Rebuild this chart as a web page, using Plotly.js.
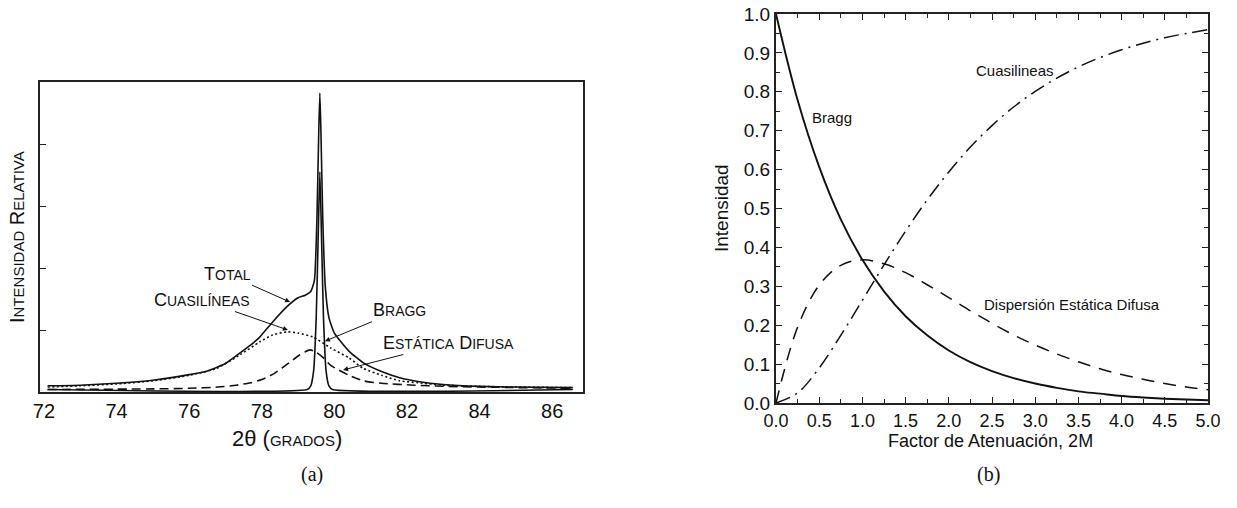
<!DOCTYPE html>
<html>
<head>
<meta charset="utf-8">
<script src="https://cdn.plot.ly/plotly-3.0.1.min.js"></script>
<style>html,body{margin:0;padding:0;background:#fff;}#chart{width:1237px;height:508px;}</style>
</head>
<body>
<div id="chart"></div>
<script>
// ---------- Panel (a): intensity vs 2θ ----------
const totalX = [72.1,73,74,75,76,76.5,77.0,77.4,77.7,77.95,78.3,78.7,79.0,79.2,79.35,79.45,79.52,79.57,79.6,79.63,79.68,79.75,79.85,80.0,80.4,80.8,81.3,81.8,82.3,83,84,85,86.57];
const totalY = [0.10,0.11,0.14,0.19,0.28,0.34,0.46,0.63,0.76,0.89,1.13,1.38,1.52,1.56,1.62,1.8,2.8,4.2,4.82,4.2,2.8,1.7,1.2,0.95,0.66,0.47,0.33,0.23,0.17,0.12,0.09,0.08,0.07];

const quasiX = [72.1,73,74,75,76,76.75,77.4,77.95,78.3,78.7,79.0,79.4,79.9,80.4,80.8,81.3,81.8,82.3,83,84,85,86.57];
const quasiY = [0.08,0.10,0.13,0.18,0.27,0.38,0.60,0.81,0.92,0.97,0.95,0.89,0.71,0.55,0.38,0.27,0.18,0.15,0.11,0.09,0.08,0.07];

const diffX = [72.1,75,76,76.8,77.3,77.7,78.0,78.35,78.75,79.05,79.33,79.5,79.7,79.9,80.4,80.8,81.3,82.2,83.1,84,86.57];
const diffY = [0.04,0.05,0.06,0.08,0.11,0.15,0.20,0.30,0.47,0.60,0.68,0.64,0.55,0.43,0.27,0.18,0.14,0.11,0.09,0.08,0.06];

const braggX = [72.1,79.25,79.35,79.43,79.5,79.55,79.6,79.65,79.7,79.77,79.85,79.95,86.57];
const braggY = [0.04,0.04,0.10,0.35,1.2,2.4,3.55,2.4,1.2,0.35,0.10,0.04,0.04];

const xTicksA = [72,74,76,78,80,82,84,86];

// ---------- Panel (b): intensity vs attenuation factor 2M ----------
const factor2M = [0,0.25,0.5,0.75,1,1.25,1.5,1.75,2,2.25,2.5,2.75,3,3.25,3.5,3.75,4,4.25,4.5,4.75,5];
const braggB = [1,0.779,0.607,0.472,0.368,0.287,0.223,0.174,0.135,0.105,0.082,0.064,0.050,0.039,0.030,0.024,0.018,0.014,0.011,0.009,0.007];
const diffB  = [0,0.195,0.303,0.354,0.368,0.358,0.335,0.304,0.271,0.237,0.205,0.175,0.149,0.126,0.106,0.088,0.073,0.061,0.050,0.041,0.034];
const quasiB = [0,0.026,0.090,0.174,0.264,0.355,0.442,0.522,0.594,0.658,0.713,0.761,0.801,0.835,0.864,0.888,0.908,0.925,0.939,0.950,0.960];

const W = 1237, H = 508;
const px = v => v / W;
const py = v => 1 - v / H;
const FS = "Liberation Sans, Arial, sans-serif";
const SERIF = "Liberation Serif, DejaVu Serif, serif";
const sc = (big, rest, s) => big + "<span style='font-size:" + s + "px'>" + rest + "</span>";

const traces = [
  {x: quasiX, y: quasiY, xaxis:'x', yaxis:'y', mode:'lines', line:{color:'#111', width:1.6, dash:'2px,2.5px', shape:'spline', smoothing:0.6}},
  {x: diffX, y: diffY, xaxis:'x', yaxis:'y', mode:'lines', line:{color:'#111', width:1.6, dash:'9px,5px', shape:'spline', smoothing:0.6}},
  {x: braggX, y: braggY, xaxis:'x', yaxis:'y', mode:'lines', line:{color:'#111', width:1.6, shape:'spline', smoothing:0.5}},
  {x: totalX, y: totalY, xaxis:'x', yaxis:'y', mode:'lines', line:{color:'#111', width:1.6, shape:'spline', smoothing:0.5}},
  {x: factor2M, y: braggB, xaxis:'x2', yaxis:'y2', mode:'lines', line:{color:'#111', width:1.9, shape:'spline'}},
  {x: factor2M, y: diffB, xaxis:'x2', yaxis:'y2', mode:'lines', line:{color:'#111', width:1.5, dash:'13px,9px', shape:'spline'}},
  {x: factor2M, y: quasiB, xaxis:'x2', yaxis:'y2', mode:'lines', line:{color:'#111', width:1.5, dash:'15px,6px,2px,6px', shape:'spline'}}
];

const arrowAnn = (x, y, ax, ay, text) => ({
  xref:'x', yref:'y', x:x, y:y, ax:ax, ay:ay, text:text, showarrow:true,
  arrowhead:2, arrowsize:1, arrowwidth:1, arrowcolor:'#111',
  font:{family:FS, size:18, color:'#111'}
});
const txt = (x, y, text, font, extra) => Object.assign({
  xref:'paper', yref:'paper', x:px(x), y:py(y), text:text, showarrow:false,
  xanchor:'center', yanchor:'middle', font:font
}, extra || {});

const layout = {
  width: W, height: H,
  margin:{l:0,r:0,t:0,b:0},
  paper_bgcolor:'#fff', plot_bgcolor:'#fff',
  showlegend:false,
  xaxis:{domain:[px(40),px(583)], range:[71.89,86.85], tickvals:xTicksA, ticks:'', showline:true, mirror:true, linecolor:'#222', linewidth:2, showgrid:false, zeroline:false, tickfont:{family:FS, size:20, color:'#111'}, anchor:'y'},
  yaxis:{domain:[py(392),py(82)], range:[0,5], dtick:1, ticks:'inside', ticklen:6, tickcolor:'#222', showticklabels:false, showline:true, mirror:true, linecolor:'#222', linewidth:2, showgrid:false, zeroline:false, anchor:'x'},
  xaxis2:{domain:[px(776),px(1208)], range:[0,5], dtick:0.5, tickformat:'.1f', ticks:'inside', ticklen:6, tickcolor:'#222', minor:{dtick:0.25, ticks:'inside', ticklen:4, tickcolor:'#222'}, showline:true, mirror:'ticks', linecolor:'#222', linewidth:2, showgrid:false, zeroline:false, tickfont:{family:FS, size:18, color:'#111'}, anchor:'y2'},
  yaxis2:{domain:[py(403),py(14)], range:[0,1], dtick:0.1, tickformat:'.1f', ticks:'inside', ticklen:6, tickcolor:'#222', minor:{dtick:0.05, ticks:'inside', ticklen:4, tickcolor:'#222'}, showline:true, mirror:'ticks', linecolor:'#222', linewidth:2, showgrid:false, zeroline:false, tickfont:{family:FS, size:19, color:'#111'}, anchor:'x2'},
  annotations:[
    arrowAnn(78.78, 1.45, -63, -28, sc('T','OTAL',14)),
    arrowAnn(78.72, 1.00, -86, -30, sc('C','UASILÍNEAS',14)),
    arrowAnn(79.74, 0.82, 75, -31, sc('B','RAGG',14)),
    arrowAnn(80.24, 0.355, 105, -27, sc('E','STÁTICA',14) + ' ' + sc('D','IFUSA',14)),
    txt(17, 237, sc('I','NTENSIDAD',15) + ' ' + sc('R','ELATIVA',15), {family:FS, size:20, color:'#111'}, {textangle:-90}),
    txt(287, 438, "2θ <span style='font-size:22px'>(</span><span style='font-size:15px'>GRADOS</span><span style='font-size:22px'>)</span>", {family:FS, size:22, color:'#111'}),
    txt(312, 474, '(a)', {family:SERIF, size:20, color:'#111'}),
    txt(988, 474, '(b)', {family:SERIF, size:20, color:'#111'}),
    txt(722, 208, 'Intensidad', {family:FS, size:19, color:'#111'}, {textangle:-90}),
    txt(990, 441, 'Factor de Atenuación, 2M', {family:FS, size:18, color:'#111'}),
    {xref:'x2', yref:'y2', x:0.65, y:0.735, text:'Bragg', showarrow:false, xanchor:'center', yanchor:'middle', font:{family:FS, size:15, color:'#111'}},
    {xref:'x2', yref:'y2', x:2.77, y:0.856, text:'Cuasilineas', showarrow:false, xanchor:'center', yanchor:'middle', font:{family:FS, size:15, color:'#111'}},
    {xref:'x2', yref:'y2', x:3.43, y:0.252, text:'Dispersión Estática Difusa', showarrow:false, xanchor:'center', yanchor:'middle', font:{family:FS, size:15, color:'#111'}}
  ]
};

Plotly.newPlot('chart', traces, layout, {displayModeBar:false, staticPlot:true});
</script>
</body>
</html>
